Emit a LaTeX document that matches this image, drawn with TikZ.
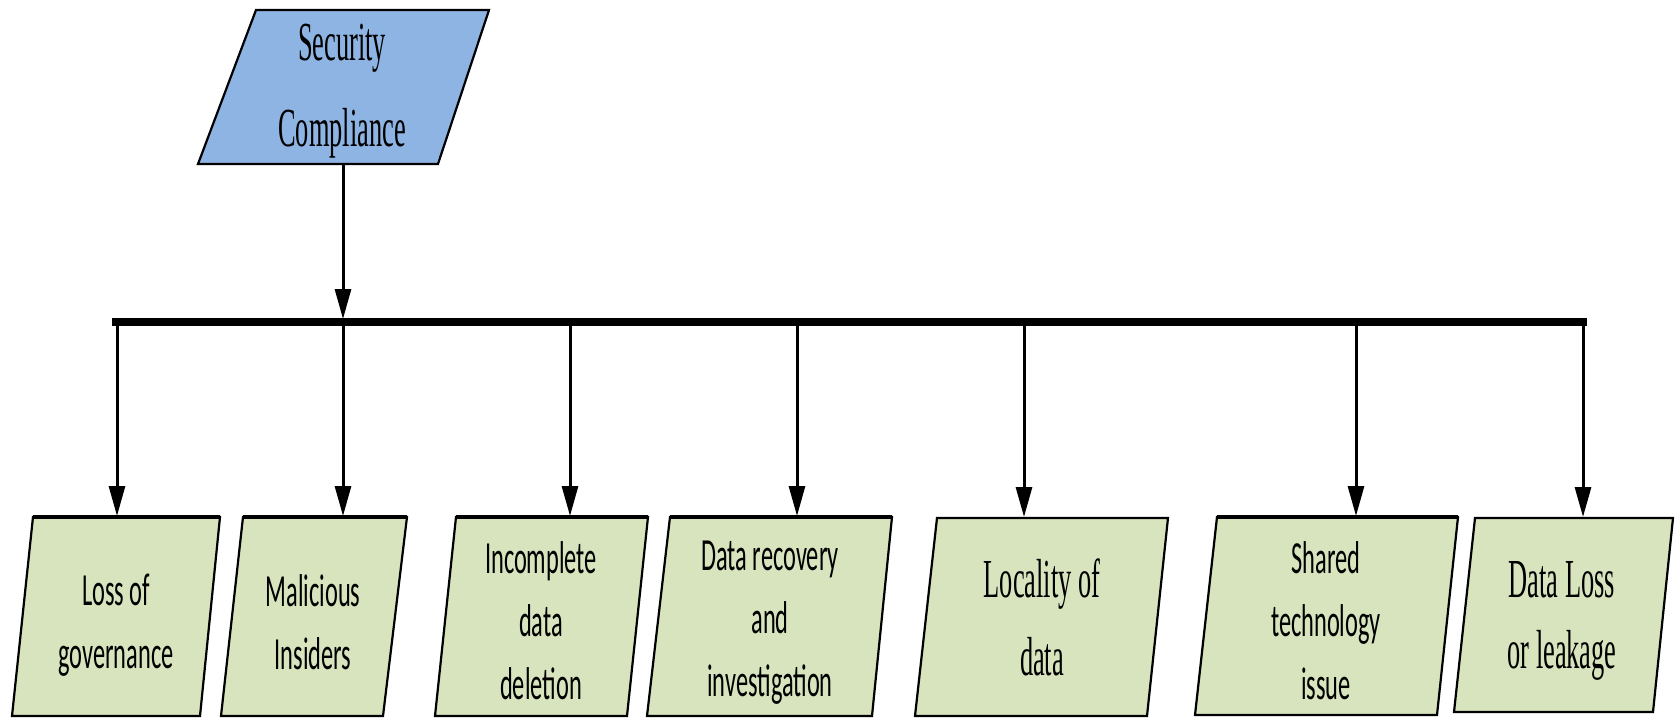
\documentclass[tikz,border=0pt]{standalone}
\usepackage{fontspec}
\usetikzlibrary{arrows.meta}
\newfontfamily\calfont[FakeStretch=0.53]{Carlito}
\newfontfamily\tmsfont[FakeStretch=0.48]{Liberation Serif}
\definecolor{topblue}{RGB}{142,180,227}
\definecolor{boxgreen}{RGB}{215,228,189}
\begin{document}
\begin{tikzpicture}[x=1pt,y=-1pt,
  conn/.style={line width=3pt,-{Triangle[length=30pt,width=16pt]}},
  busline/.style={line width=7.5pt,line cap=rect},
  paraedge/.style={draw=black,line width=2.2pt,line join=miter},
  heavytop/.style={line width=4.5pt,line cap=butt},
  cal/.style={font=\calfont\fontsize{46}{63}\selectfont,align=center,inner sep=0pt},
  tms/.style={font=\tmsfont\fontsize{55}{76}\selectfont,align=center,inner sep=0pt}]
\useasboundingbox (0,0) rectangle (1679,718);

% top box
\filldraw[paraedge,fill=topblue] (256,10) -- (489,10) -- (438,164) -- (198,164) -- cycle;
\node[tms,font=\tmsfont\fontsize{55}{86}\selectfont] (top) at (342,91) {Security\\Compliance};
\coordinate (topout) at (343,164);

% bottom boxes
\filldraw[paraedge,fill=boxgreen] (33,517) -- (220,517) -- (200,716) -- (12,716) -- cycle;
\draw[heavytop] (33,517) -- (220,517);
\filldraw[paraedge,fill=boxgreen] (243,517) -- (407,517) -- (383,716) -- (221,716) -- cycle;
\draw[heavytop] (243,517) -- (407,517);
\filldraw[paraedge,fill=boxgreen] (456,517) -- (648,517) -- (627,716) -- (435,716) -- cycle;
\draw[heavytop] (456,517) -- (648,517);
\filldraw[paraedge,fill=boxgreen] (670,517) -- (892,517) -- (872,716) -- (647,716) -- cycle;
\draw[heavytop] (670,517) -- (892,517);
\filldraw[paraedge,fill=boxgreen] (937,518) -- (1168,518) -- (1147,716) -- (915,716) -- cycle;
\filldraw[paraedge,fill=boxgreen] (1217,517) -- (1458,517) -- (1437,715) -- (1195,715) -- cycle;
\draw[heavytop] (1217,517) -- (1458,517);
\filldraw[paraedge,fill=boxgreen] (1475,518) -- (1673,518) -- (1653,712) -- (1454,712) -- cycle;

\node[cal] (b1) at (116,625) {Loss of\\governance};
\node[cal] (b2) at (313,622) {Malicious\\Insiders};
\node[cal] (b3) at (541,621) {Incomplete\\data\\deletion};
\node[cal] (b4) at (770,623) {Data recovery\\and\\investigation};
\node[tms,font=\tmsfont\fontsize{55}{78}\selectfont] (b5) at (1042,617) {Locality of\\data};
\node[tms,font=\tmsfont\fontsize{55}{71}\selectfont] (b7) at (1562,621) {Data Loss\\or leakage};
\node[cal] (b6) at (1326,621) {Shared\\technology\\issue};

% bus
\coordinate (busL) at (116,322);
\coordinate (busR) at (1583,322);
\draw[busline] (busL) -- (busR);
\coordinate (j0) at (343,319);
\draw[conn] (topout) -- (j0);

\foreach \i/\x/\y in {1/117/516, 2/343/516, 3/570/516, 4/797/516, 5/1024/517, 6/1356/516, 7/1583/517}{
  \coordinate (j\i) at (\x,322);
  \coordinate (t\i) at (\x,\y);
  \draw[conn] (j\i) -- (t\i);
}
\end{tikzpicture}
\end{document}
